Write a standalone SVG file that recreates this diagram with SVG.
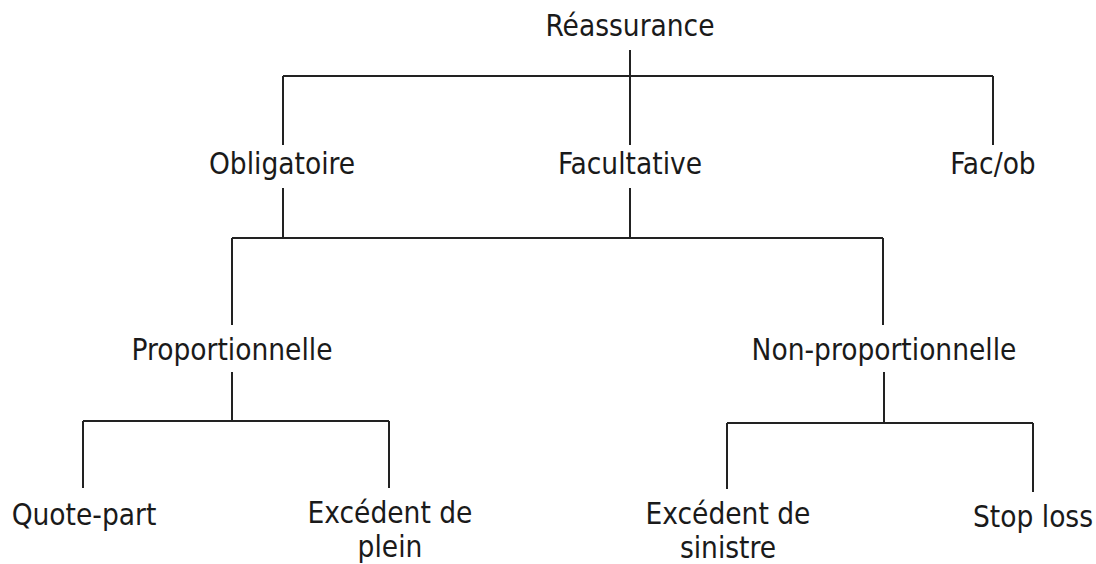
<svg xmlns="http://www.w3.org/2000/svg" width="1096" height="564" viewBox="0 0 1096 564">
<style>
text{font-family:"DejaVu Sans Condensed","DejaVu Sans",sans-serif;font-size:29.5px;fill:#1a1a1a;text-anchor:middle}
.c line{stroke:#222;stroke-width:2;fill:none}
</style>
<rect width="1096" height="564" fill="#fff"/>
<g class="c" id="connectors">
<line x1="630" y1="50" x2="630" y2="145"/>
<line x1="283" y1="76" x2="993" y2="76"/>
<line x1="283" y1="76" x2="283" y2="145"/>
<line x1="993" y1="76" x2="993" y2="145"/>
<line x1="283" y1="188" x2="283" y2="238"/>
<line x1="630" y1="188" x2="630" y2="238"/>
<line x1="232" y1="238" x2="883" y2="238"/>
<line x1="232" y1="238" x2="232" y2="325"/>
<line x1="883" y1="238" x2="883" y2="325"/>
<line x1="232" y1="372" x2="232" y2="421"/>
<line x1="83" y1="421" x2="389" y2="421"/>
<line x1="83" y1="421" x2="83" y2="488"/>
<line x1="389" y1="421" x2="389" y2="488"/>
<line x1="884" y1="372" x2="884" y2="423"/>
<line x1="727" y1="423" x2="1033" y2="423"/>
<line x1="727" y1="423" x2="727" y2="489"/>
<line x1="1033" y1="423" x2="1033" y2="492"/>
</g>
<g id="n-reassurance"><text x="630" y="36">Réassurance</text></g>
<g id="n-obligatoire"><text x="282" y="174">Obligatoire</text></g>
<g id="n-facultative"><text x="630" y="174">Facultative</text></g>
<g id="n-facob"><text x="993" y="174">Fac/ob</text></g>
<g id="n-prop"><text x="232" y="360">Proportionnelle</text></g>
<g id="n-nonprop"><text x="884" y="360">Non-proportionnelle</text></g>
<g id="n-quotepart"><text x="84" y="525">Quote-part</text></g>
<g id="n-excplein"><text x="390" y="523">Excédent de</text><text x="390" y="557">plein</text></g>
<g id="n-excsin"><text x="728" y="524">Excédent de</text><text x="728" y="558">sinistre</text></g>
<g id="n-stoploss"><text x="1033" y="527">Stop loss</text></g>
</svg>
